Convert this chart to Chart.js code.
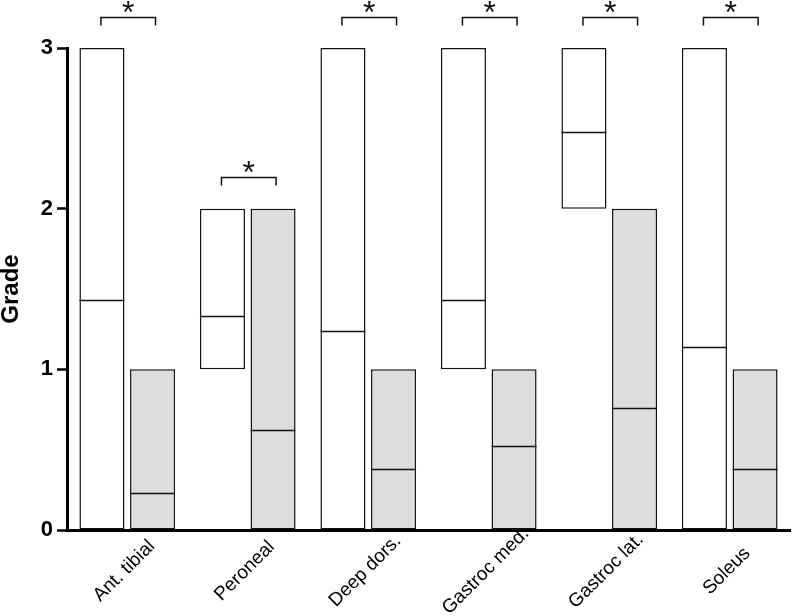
<!DOCTYPE html>
<html>
<head>
<meta charset="utf-8">
<script src="https://cdn.jsdelivr.net/npm/chart.js@4/dist/chart.umd.min.js"></script>
<style>
  html, body { margin: 0; padding: 0; background: #fff; }
  #wrap { width: 793px; height: 616px; position: relative; }
</style>
</head>
<body>
<div id="wrap"><canvas id="grade-chart"></canvas></div>
<script>
// muscles on the x axis
const categories = ['Ant. tibial', 'Peroneal', 'Deep dors.', 'Gastroc med.', 'Gastroc lat.', 'Soleus'];

// white boxes: range and median
const whiteMin = [0, 1, 0, 1, 2, 0];
const whiteMax = [3, 2, 3, 3, 3, 3];
const whiteMedian = [1.43, 1.33, 1.24, 1.43, 2.48, 1.14];

// grey boxes: range and median
const greyMin = [0, 0, 0, 0, 0, 0];
const greyMax = [1, 2, 1, 1, 2, 1];
const greyMedian = [0.23, 0.62, 0.38, 0.52, 0.76, 0.38];

// height of the significance bracket over each pair
const bracketLevel = [3.19, 2.2, 3.19, 3.19, 3.19, 3.19];
const yTicks = [0, 1, 2, 3];

const medians = [whiteMedian, greyMedian];
const FONT = '"Liberation Sans", Arial, sans-serif';

// draws the median line across each box
const medianLines = {
    id: 'medianLines',
    afterDatasetsDraw(chart) {
        const ctx = chart.ctx;
        const yScale = chart.scales.y;
        ctx.save();
        ctx.strokeStyle = '#111';
        ctx.lineWidth = 1.5;
        chart.data.datasets.forEach((ds, d) => {
            const meta = chart.getDatasetMeta(d);
            meta.data.forEach((bar, i) => {
                const y = Math.round(yScale.getPixelForValue(medians[d][i])) + 0.5;
                ctx.beginPath();
                ctx.moveTo(bar.x - bar.width / 2, y);
                ctx.lineTo(bar.x + bar.width / 2, y);
                ctx.stroke();
            });
        });
        ctx.restore();
    }
};

// brackets with asterisks, plus the slanted category labels (centred on the tick)
const annotations = {
    id: 'annotations',
    afterDraw(chart) {
        const ctx = chart.ctx;
        const xScale = chart.scales.x;
        const yScale = chart.scales.y;
        const m0 = chart.getDatasetMeta(0);
        const m1 = chart.getDatasetMeta(1);
        ctx.save();
        ctx.strokeStyle = '#111';
        ctx.fillStyle = '#111';
        ctx.lineWidth = 1.5;
        ctx.font = '32px ' + FONT;
        ctx.textAlign = 'center';
        ctx.textBaseline = 'alphabetic';
        bracketLevel.forEach((lvl, i) => {
            const x1 = m0.data[i].x - 1;
            const x2 = m1.data[i].x + 3;
            const y = Math.round(yScale.getPixelForValue(lvl)) + 0.5;
            ctx.beginPath();
            ctx.moveTo(x1, y + 8);
            ctx.lineTo(x1, y);
            ctx.lineTo(x2, y);
            ctx.lineTo(x2, y + 8);
            ctx.stroke();
            ctx.fillText('*', (x1 + x2) / 2, y + 5.5);
        });

        ctx.fillStyle = '#000';
        ctx.font = '19px ' + FONT;
        ctx.textBaseline = 'middle';
        categories.forEach((label, i) => {
            const x = xScale.getPixelForValue(i) - 3;
            ctx.save();
            ctx.translate(x, xScale.top + 41);
            ctx.rotate(-Math.PI / 4);
            ctx.fillText(label, 0, 0);
            ctx.restore();
        });
        ctx.restore();
    }
};

new Chart(document.getElementById('grade-chart'), {
    type: 'bar',
    data: {
        labels: categories,
        datasets: [{
            label: 'white',
            data: whiteMin.map((v, i) => [v, whiteMax[i]]),
            backgroundColor: '#ffffff',
            borderColor: '#111',
            borderWidth: 1.5,
            borderSkipped: false,
            categoryPercentage: 0.84,
            barPercentage: 0.89
        }, {
            label: 'grey',
            data: greyMin.map((v, i) => [v, greyMax[i]]),
            backgroundColor: '#dddddd',
            borderColor: '#111',
            borderWidth: 1.5,
            borderSkipped: false,
            categoryPercentage: 0.84,
            barPercentage: 0.89
        }]
    },
    options: {
        responsive: true,
        maintainAspectRatio: false,
        animation: false,
        layout: { padding: { top: 48, right: 3, left: 0, bottom: 0 } },
        plugins: {
            legend: { display: false },
            tooltip: { enabled: false }
        },
        scales: {
            x: {
                afterFit: (scale) => { scale.height = 86; },
                grid: { display: false },
                border: { display: true, color: '#000', width: 3 },
                ticks: { display: false }
            },
            y: {
                min: 0,
                max: 3,
                afterFit: (scale) => { scale.width = 67; },
                afterBuildTicks: (scale) => { scale.ticks = yTicks.map(v => ({ value: v })); },
                grid: {
                    drawOnChartArea: false,
                    drawTicks: true,
                    tickLength: 10,
                    tickWidth: 2.5,
                    tickColor: '#000'
                },
                border: { display: true, color: '#000', width: 3 },
                ticks: {
                    color: '#000',
                    padding: 4,
                    font: { family: FONT, size: 22, weight: 'bold' }
                },
                title: {
                    display: true,
                    text: 'Grade',
                    color: '#000',
                    padding: 0,
                    font: { family: FONT, size: 24, weight: 'bold', lineHeight: 0.92 }
                }
            }
        }
    },
    plugins: [medianLines, annotations]
});
</script>
</body>
</html>
